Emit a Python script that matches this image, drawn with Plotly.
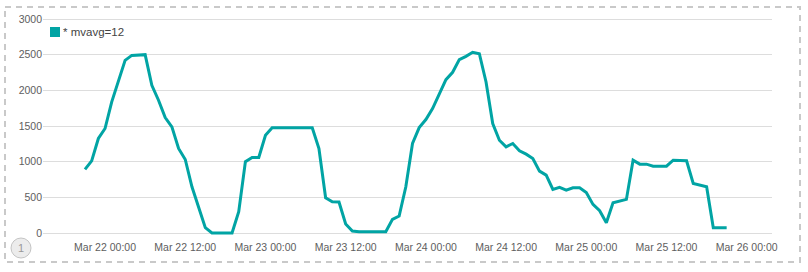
import pandas as pd
import plotly.graph_objects as go

# ---- data ----
start_time = "2019-03-21 21:00"
series_name = "* mvavg=12"
values = [
    891, 1012, 1325, 1465, 1838, 2117, 2420, 2490, 2500, 2500,
    2071, 1861, 1618, 1488, 1185, 1031, 648, 368, 75, 0,
    0, 0, 0, 298, 1000, 1059, 1059, 1371, 1474, 1474,
    1474, 1474, 1474, 1474, 1474, 1185, 494, 438, 434, 126,
    28, 19, 19, 19, 19, 19, 191, 238, 648, 1255,
    1478, 1590, 1744, 1940, 2150, 2253, 2430, 2477, 2533, 2514,
    2117, 1534, 1301, 1208, 1255, 1152, 1105, 1045, 867, 811,
    611, 639, 602, 634, 634, 569, 401, 312, 145, 424,
    443, 471, 1021, 965, 965, 937, 937, 937, 1021, 1021,
    1012, 695, 676, 648, 75, 75, 75,
]
times = pd.date_range(start_time, periods=len(values), freq="h")
y_ticks = [0, 500, 1000, 1500, 2000, 2500, 3000]

# ---- layout geometry ----
W, H = 808, 272
ML, MR, MT, MB = 43, 36, 17, 37
PW, PH = W - ML - MR, H - MT - MB


def px(x):
    return (x - ML) / PW


def py(y):
    return (H - MB - y) / PH


TEAL = "#01A4A4"
FONT = "Liberation Sans, Arial, Helvetica, sans-serif"
TICK_COLOR = "#5e5e5e"

fig = go.Figure()
fig.add_trace(go.Scatter(
    x=times, y=values, mode="lines",
    line=dict(color=TEAL, width=3),
    showlegend=False, hoverinfo="skip",
))

shapes = [
    # dashed outer border
    dict(type="rect", xref="paper", yref="paper",
         x0=px(5), x1=px(800), y0=py(7), y1=py(262),
         line=dict(color="#c9c9c9", width=2, dash="6px,5px"), layer="below"),
    # legend swatch
    dict(type="rect", xref="paper", yref="paper",
         x0=px(50), x1=px(60), y0=py(37), y1=py(27),
         fillcolor=TEAL, line=dict(width=0)),
    # badge circle
    dict(type="circle", xref="paper", yref="paper",
         x0=px(11), x1=px(31), y0=py(258), y1=py(238),
         fillcolor="#ececec", line=dict(color="#c4c4c4", width=1)),
]

annotations = [
    dict(text=series_name, xref="paper", yref="paper", x=px(61), y=py(32),
         xanchor="left", yanchor="middle", showarrow=False,
         font=dict(family=FONT, size=11.5, color="#444")),
    dict(text="1", xref="paper", yref="paper", x=px(21), y=py(248),
         xanchor="center", yanchor="middle", showarrow=False,
         font=dict(family=FONT, size=11, color="#999")),
]

fig.update_layout(
    width=W, height=H,
    margin=dict(l=ML, r=MR, t=MT, b=MB, pad=0),
    paper_bgcolor="white", plot_bgcolor="white",
    font=dict(family=FONT, size=10.5, color=TICK_COLOR),
    shapes=shapes, annotations=annotations,
    showlegend=False,
    xaxis=dict(
        type="date",
        range=["2019-03-21 14:43", "2019-03-26 03:47"],
        tick0="2019-03-22 00:00", dtick=12 * 3600 * 1000,
        tickformat="%b %d %H:%M",
        showgrid=False, zeroline=False, showline=False, ticks="",
        ticklabelstandoff=4,
        tickfont=dict(family=FONT, size=10.5, color=TICK_COLOR),
    ),
    yaxis=dict(
        range=[-28, 3028],
        tickvals=y_ticks, ticktext=[str(v) for v in y_ticks],
        showgrid=True, gridcolor="#dddddd", gridwidth=1,
        zeroline=False, showline=False, ticks="",
        tickfont=dict(family=FONT, size=10.5, color=TICK_COLOR),
    ),
)

fig.write_html("out.html")
